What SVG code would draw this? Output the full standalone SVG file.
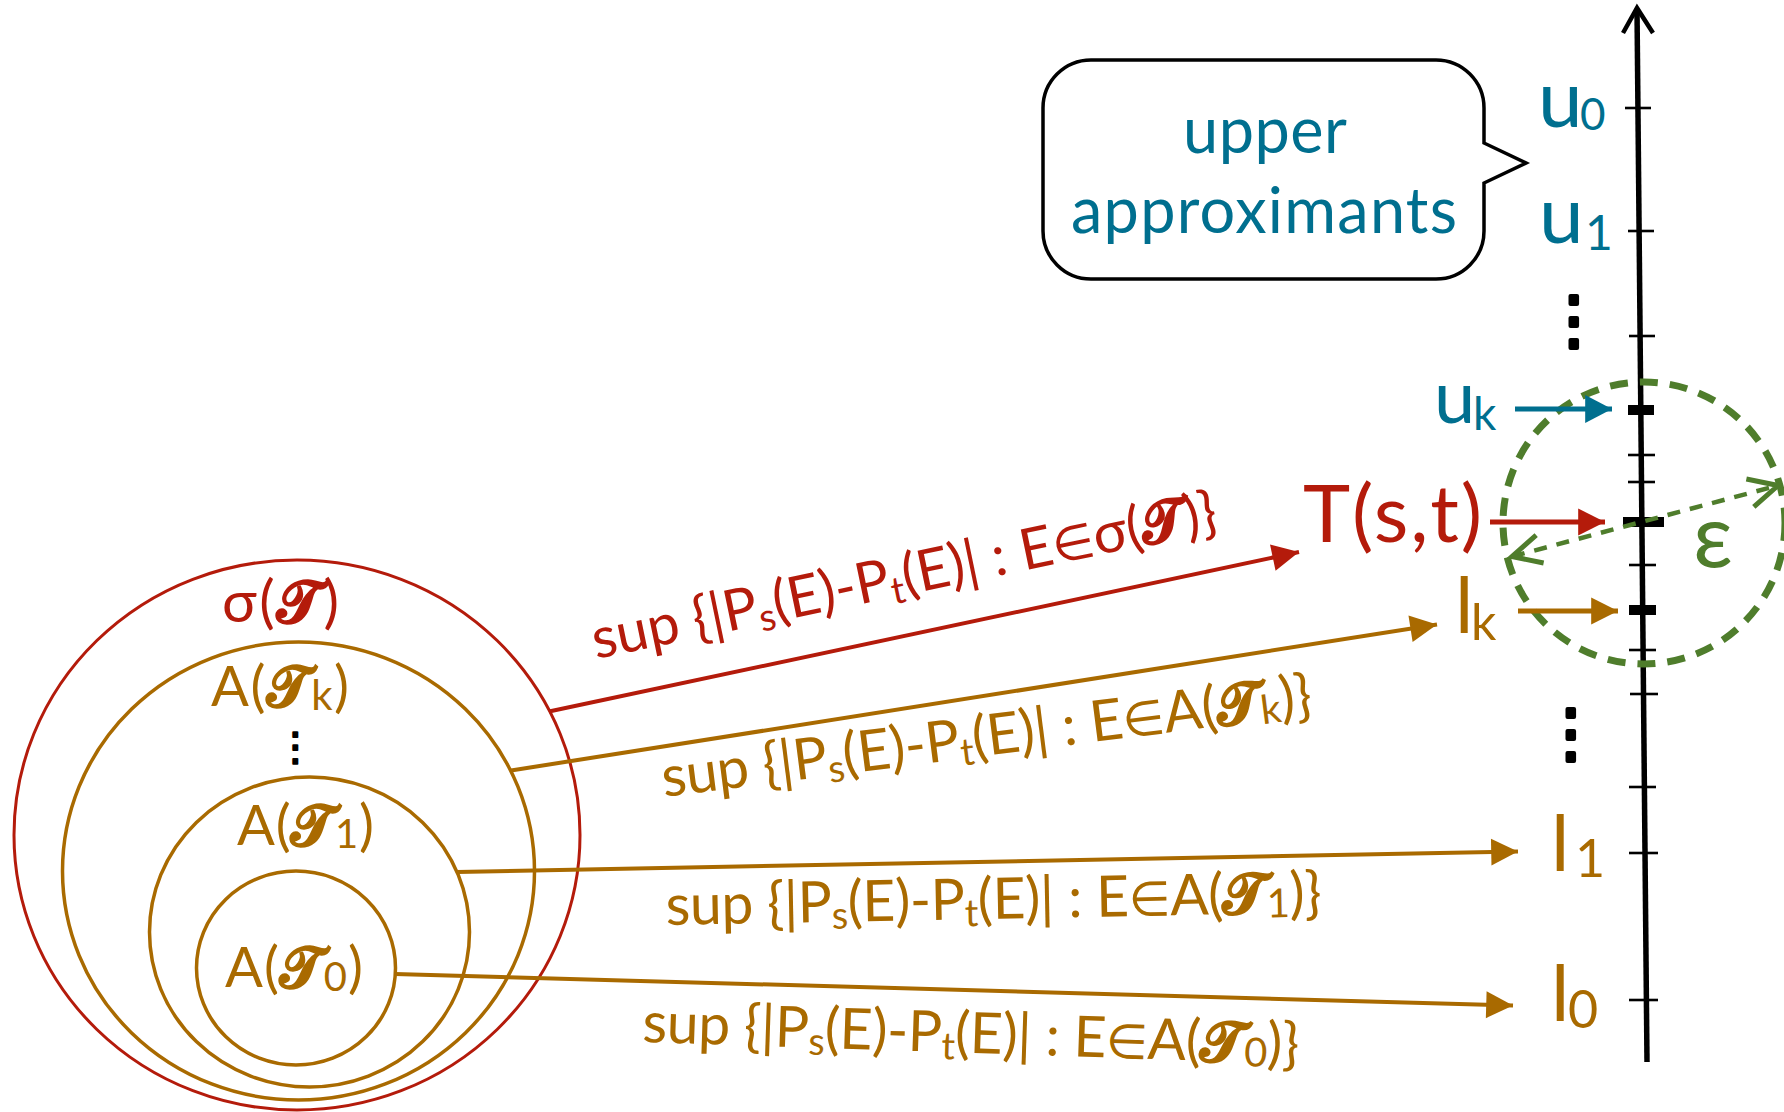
<svg xmlns="http://www.w3.org/2000/svg" width="1784" height="1112" viewBox="0 0 1784 1112">
<style>
text{font-family:Lato,"Open Sans","DejaVu Sans",sans-serif}
.teal{fill:#006f8f}
.red{fill:#b41b0b}
.org{fill:#a96a00}
.grn{fill:#4f7d2c}
.tick{stroke:#000;stroke-width:2.6}
.thick{stroke:#000;stroke-width:10}
.dots{font-family:"DejaVu Sans",sans-serif;fill:#000;stroke:#000;stroke-linejoin:round}
.scr{font-weight:bold;stroke-width:1.6}
.red .scr{stroke:#b41b0b}
.org .scr{stroke:#a96a00}
</style>
<defs>
<marker id="hR" markerUnits="userSpaceOnUse" markerWidth="30" markerHeight="30" viewBox="-26 -14 28 28" refX="0" refY="0" orient="auto"><path d="M-25,-12.5 L0,0 L-25,12.5 Z" fill="#b41b0b"/></marker>
<marker id="hO" markerUnits="userSpaceOnUse" markerWidth="30" markerHeight="30" viewBox="-26 -14 28 28" refX="0" refY="0" orient="auto"><path d="M-25,-12.5 L0,0 L-25,12.5 Z" fill="#a96a00"/></marker>
<marker id="hT" markerUnits="userSpaceOnUse" markerWidth="30" markerHeight="30" viewBox="-26 -14 28 28" refX="0" refY="0" orient="auto"><path d="M-25,-13 L0,0 L-25,13 Z" fill="#006f8f"/></marker>
<marker id="hG" markerUnits="userSpaceOnUse" markerWidth="40" markerHeight="40" viewBox="-30 -18 34 36" refX="0" refY="0" orient="auto-start-reverse"><path d="M-26,-13 L0,0 L-26,13" fill="none" stroke="#4f7d2c" stroke-width="4.5"/></marker>
</defs>

<g id="sets">
<ellipse id="sigma-set" cx="297" cy="835" rx="283" ry="275" fill="none" stroke="#b41b0b" stroke-width="3"/>
<ellipse id="A-k-set" cx="298.5" cy="871" rx="236" ry="229" fill="none" stroke="#a96a00" stroke-width="3.5"/>
<ellipse id="A-1-set" cx="309.5" cy="932" rx="160" ry="155" fill="none" stroke="#a96a00" stroke-width="3.5"/>
<ellipse id="A-0-set" cx="296" cy="968" rx="99.5" ry="97" fill="none" stroke="#a96a00" stroke-width="3.5"/>
<text class="red" x="222" y="622" font-size="58" textLength="117">σ(<tspan class="scr">𝒯</tspan>)</text>
<text class="org" x="211" y="706" font-size="56" textLength="138">A(<tspan class="scr">𝒯</tspan><tspan font-size="42" dy="4">k</tspan><tspan dy="-4">)</tspan></text>
<text class="dots" x="276" y="760" font-size="39" stroke-width="2">⋮</text>
<text class="org" x="237" y="845" font-size="56" textLength="137">A(<tspan class="scr">𝒯</tspan><tspan font-size="40" dy="3">1</tspan><tspan dy="-3">)</tspan></text>
<text class="org" x="225" y="987" font-size="56" textLength="138">A(<tspan class="scr">𝒯</tspan><tspan font-size="40" dy="4">0</tspan><tspan dy="-4">)</tspan></text>
</g>

<g id="bubble">
<path d="M1091,60 H1436 A48,48 0 0 1 1484,108 V143 L1526,163 L1484,183 V231 A48,48 0 0 1 1436,279 H1091 A48,48 0 0 1 1043,231 V108 A48,48 0 0 1 1091,60 Z" fill="#fff" stroke="#000" stroke-width="3.5"/>
<text class="teal" x="1265" y="153" font-size="63" text-anchor="middle" textLength="164">upper</text>
<text class="teal" x="1264" y="233" font-size="63" text-anchor="middle" textLength="386">approximants</text>
</g>

<g id="axis">
<line x1="1637" y1="9" x2="1647" y2="1062" stroke="#000" stroke-width="5.5"/>
<path d="M1623,33 L1637,8 L1653,33" fill="none" stroke="#000" stroke-width="4.5"/>
<line class="tick" x1="1625" y1="108" x2="1651" y2="108"/>
<line class="tick" x1="1628" y1="231" x2="1654" y2="231"/>
<line class="tick" x1="1629" y1="336" x2="1655" y2="336"/>
<line class="thick" x1="1628" y1="410" x2="1654" y2="410"/>
<line class="tick" x1="1628" y1="455" x2="1655" y2="455"/>
<line class="tick" x1="1628" y1="482" x2="1655" y2="482"/>
<line class="thick" x1="1623" y1="522" x2="1664" y2="522"/>
<line class="tick" x1="1629" y1="565" x2="1656" y2="565"/>
<line class="thick" x1="1629" y1="610" x2="1656" y2="610"/>
<line class="tick" x1="1629" y1="650" x2="1656" y2="650"/>
<line class="tick" x1="1630" y1="694" x2="1658" y2="694"/>
<line class="tick" x1="1629" y1="787" x2="1656" y2="787"/>
<line class="tick" x1="1629" y1="853" x2="1658" y2="853"/>
<line class="tick" x1="1629" y1="1000" x2="1658" y2="1000"/>
</g>

<g id="axis-labels">
<text class="teal" x="1538" y="127" font-size="80">u</text><text class="teal" x="1580" y="130" font-size="44">0</text>
<text class="teal" x="1539" y="243" font-size="80">u</text><text class="teal" x="1585" y="250" font-size="48">1</text>
<text class="dots" x="1542" y="342" font-size="64" stroke-width="4">⋮</text>
<text class="teal" x="1434" y="423" font-size="74">u</text><text class="teal" x="1473" y="430" font-size="46">k</text>
<text class="red" x="1303" y="542" font-size="80" textLength="179">T(s,t)</text>
<text class="org" x="1455" y="633" font-size="78">l</text><text class="org" x="1471" y="640" font-size="50">k</text>
<text class="dots" x="1539" y="755" font-size="64" stroke-width="4">⋮</text>
<text class="org" x="1551" y="871" font-size="78">l</text><text class="org" x="1575" y="877" font-size="52">1</text>
<text class="org" x="1551" y="1021" font-size="78">l</text><text class="org" x="1568" y="1028" font-size="52">0</text>
</g>

<g id="epsilon">
<circle cx="1644" cy="523" r="141" fill="none" stroke="#4f7d2c" stroke-width="7" stroke-dasharray="18 12"/>
<line x1="1512" y1="556.5" x2="1778" y2="485.5" stroke="#4f7d2c" stroke-width="4.5" stroke-dasharray="13 10" marker-start="url(#hG)" marker-end="url(#hG)"/>
<text class="grn" x="1693" y="567" font-size="88">ε</text>
</g>

<g id="connectors">
<line x1="549" y1="711.5" x2="1299" y2="552" stroke="#b41b0b" stroke-width="4" marker-end="url(#hR)"/>
<line x1="511" y1="770.5" x2="1437" y2="624.5" stroke="#a96a00" stroke-width="4" marker-end="url(#hO)"/>
<line x1="457" y1="872" x2="1518" y2="851.5" stroke="#a96a00" stroke-width="4" marker-end="url(#hO)"/>
<line x1="395" y1="974" x2="1513" y2="1005.5" stroke="#a96a00" stroke-width="4" marker-end="url(#hO)"/>
<line x1="1515" y1="409" x2="1612" y2="409" stroke="#006f8f" stroke-width="5" marker-end="url(#hT)"/>
<line x1="1490" y1="522" x2="1605" y2="522" stroke="#b41b0b" stroke-width="5" marker-end="url(#hR)"/>
<line x1="1518" y1="611" x2="1618" y2="611" stroke="#a96a00" stroke-width="5" marker-end="url(#hO)"/>
</g>

<g id="connector-labels">
<text class="red" transform="translate(596,659) rotate(-11.7)" font-size="57" textLength="637">sup {|P<tspan font-size="38" dy="7">s</tspan><tspan dy="-7">(E)-P</tspan><tspan font-size="38" dy="7">t</tspan><tspan dy="-7">(E)| : E</tspan><tspan font-size="48">∈</tspan>σ(<tspan class="scr">𝒯</tspan>)}</text>
<text class="org" transform="translate(664,797) rotate(-7.3)" font-size="57" textLength="655">sup {|P<tspan font-size="38" dy="7">s</tspan><tspan dy="-7">(E)-P</tspan><tspan font-size="38" dy="7">t</tspan><tspan dy="-7">(E)| : E</tspan><tspan font-size="48">∈</tspan>A(<tspan class="scr">𝒯</tspan><tspan font-size="40" dy="4">k</tspan><tspan dy="-4">)}</tspan></text>
<text class="org" transform="translate(666,925) rotate(-1.1)" font-size="57" textLength="656">sup {|P<tspan font-size="38" dy="7">s</tspan><tspan dy="-7">(E)-P</tspan><tspan font-size="38" dy="7">t</tspan><tspan dy="-7">(E)| : E</tspan><tspan font-size="48">∈</tspan>A(<tspan class="scr">𝒯</tspan><tspan font-size="40" dy="4">1</tspan><tspan dy="-4">)}</tspan></text>
<text class="org" transform="translate(642,1042) rotate(1.9)" font-size="57" textLength="657">sup {|P<tspan font-size="38" dy="7">s</tspan><tspan dy="-7">(E)-P</tspan><tspan font-size="38" dy="7">t</tspan><tspan dy="-7">(E)| : E</tspan><tspan font-size="48">∈</tspan>A(<tspan class="scr">𝒯</tspan><tspan font-size="40" dy="4">0</tspan><tspan dy="-4">)}</tspan></text>
</g>
</svg>
